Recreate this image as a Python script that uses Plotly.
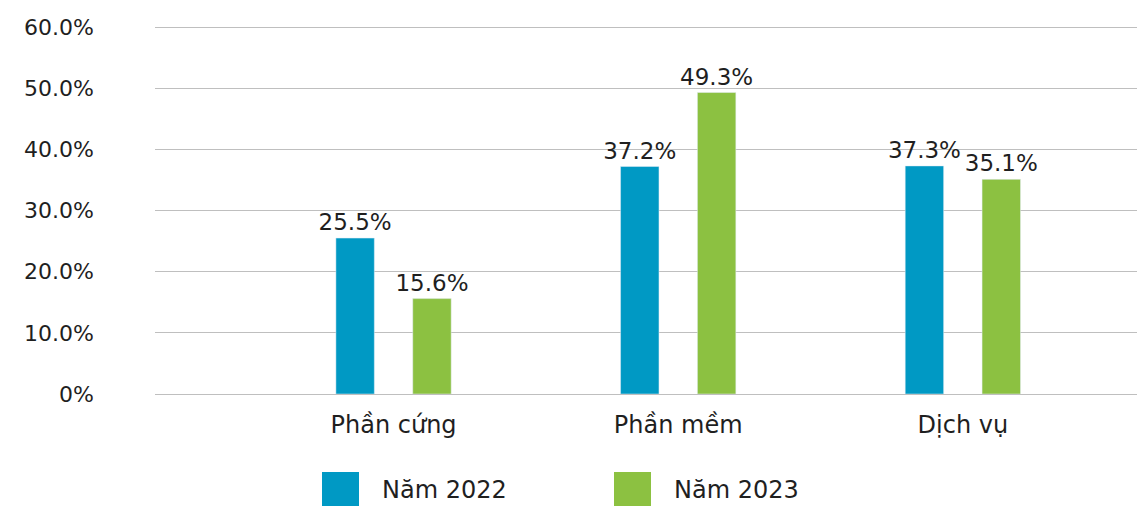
import plotly.graph_objects as go

categories = ["Phần cứng", "Phần mềm", "Dịch vụ"]
series_names = ["Năm 2022", "Năm 2023"]
values_2022 = [25.5, 37.2, 37.3]
values_2023 = [15.6, 49.3, 35.1]
tick_vals = [0, 10, 20, 30, 40, 50, 60]
tick_text = ["0%", "10.0%", "20.0%", "30.0%", "40.0%", "50.0%", "60.0%"]

BLUE = "#0099C4"
GREEN = "#8CC141"
TEXT = "#1F1F1F"
GRID = "#BFBFBF"
FONT = "DejaVu Sans"

fig = go.Figure()
for name, vals, col in [(series_names[0], values_2022, BLUE), (series_names[1], values_2023, GREEN)]:
    fig.add_trace(go.Bar(
        x=categories, y=vals, name=name, marker_color=col,
        text=[f"{v}%" for v in vals], textposition="outside",
        constraintext="none",
        textfont=dict(family=FONT, size=23, color=TEXT),
        cliponaxis=False, showlegend=False,
    ))

fig.update_layout(
    width=1145, height=507,
    margin=dict(l=147, r=0, t=13, b=121),
    paper_bgcolor="white", plot_bgcolor="white",
    barmode="group", bargap=0.46, bargroupgap=0.5,
    font=dict(family=FONT, size=22, color=TEXT),
    xaxis=dict(range=[-0.838, 2.668], showgrid=False, showline=False,
               tickfont=dict(family=FONT, size=24, color=TEXT),
               ticks="", ticklabelstandoff=14, automargin=False),
    yaxis=dict(range=[0, 61], tickvals=tick_vals, ticktext=tick_text,
               showgrid=True, gridcolor=GRID, gridwidth=1,
               zeroline=True, zerolinecolor=GRID, zerolinewidth=1,
               showline=False, ticks="", ticklabelstandoff=60, automargin=False,
               tickfont=dict(family=FONT, size=22, color=TEXT)),
)

# legend drawn as boxes + labels (paper coords; page has 8px body offset)
plot_l, plot_w = 147, 1145 - 147
plot_h = 507 - 13 - 121
def px(pix):
    return (pix - 8 - plot_l) / plot_w
def py(pix):
    return (507 - 121 - (pix - 8)) / plot_h

legend_items = [(series_names[0], BLUE, 322, 380), (series_names[1], GREEN, 614, 672)]
for name, col, bx, tx in legend_items:
    fig.add_shape(type="rect", xref="paper", yref="paper",
                  x0=px(bx), x1=px(bx + 37), y0=py(472), y1=py(506),
                  fillcolor=col, line=dict(width=0))
    fig.add_annotation(xref="paper", yref="paper", x=px(tx), y=py(490),
                       text=name, showarrow=False, xanchor="left", yanchor="middle",
                       font=dict(family=FONT, size=24, color=TEXT))

fig.write_html("out.html")
